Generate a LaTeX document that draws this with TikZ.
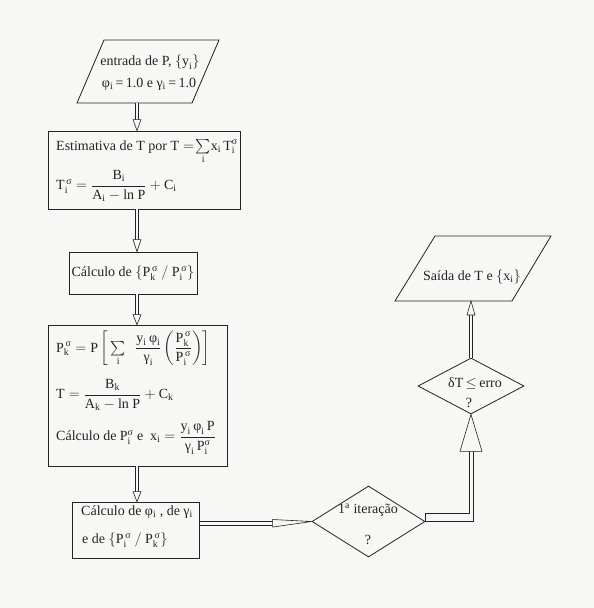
\documentclass[tikz,border=0pt]{standalone}
\usepackage{amsmath}
\usepackage{fontspec}
\setmainfont{Liberation Serif}
\usetikzlibrary{shapes.geometric,calc}
\definecolor{bg}{RGB}{247,247,245}
\definecolor{ink}{RGB}{35,35,35}
\newcommand\up[1]{\text{#1}}
\newcommand\sbi[1]{\textsubscript{#1}}
\newcommand\harrow[4]{%
  \coordinate (hbase) at ($#2!#3!#1$);
  \draw[shaft] #1 -- (hbase);
  \draw[head] #2 -- ($(hbase)!#4!90:#2$) -- ($(hbase)!#4!-90:#2$) -- cycle;
}
\begin{document}
\begin{tikzpicture}[x=1pt,y=-1pt,
  box/.style={draw=ink, rectangle, inner sep=0pt, line width=0.8pt},
  dia/.style={draw=ink, diamond, inner sep=0pt, line width=0.8pt},
  outline/.style={draw=ink, line width=0.8pt, line join=miter},
  txt/.style={inner sep=0pt, text=ink, font=\fontsize{14}{16}\selectfont},
  shaft/.style={draw=ink, line width=0.6pt, double=bg, double distance=2.6pt},
  head/.style={draw=ink, fill=bg, line width=0.6pt, line join=miter},
  pipe/.style={draw=ink, line width=0.6pt}]
\fill[bg] (0,0) rectangle (594,608);
\useasboundingbox (0,0) rectangle (594,608);

% ---- input parallelogram
\coordinate (p1bl) at (77,103);
\coordinate (p1br) at (192,103);
\coordinate (p1tr) at (219,40);
\coordinate (p1tl) at (104,40);
\draw[outline] (p1bl) -- (p1br) -- (p1tr) -- (p1tl) -- cycle;
\node[txt] (t1a) at (150,62) {entrada de P, $\{\up{y}_{\up{i}}\}$};
\node[txt] (t1b) at (149,84) {φ\sbi{i}\,=\,1.0 e γ\sbi{i}\,=\,1.0};

% ---- boxes
\node[box, minimum width=192, minimum height=78] (b2) at (144,170) {};
\node[box, minimum width=128, minimum height=42] (b3) at (133,273) {};
\node[box, minimum width=179, minimum height=141] (b4) at (137.5,395.5) {};
\node[box, minimum width=127, minimum height=56] (b5) at (135.5,530) {};

\node[txt, anchor=base west] (t2a) at (56,150) {Estimativa de T por T$\;=\!\sum\limits_{\up{i}}\!\up{x}_{\up{i}}\,\up{T}_{\up{i}}^{\up{σ}}$};
\node[txt, anchor=west] (t2b) at (56,186) {$\up{T}_{\up{i}}^{\,\up{σ}} = \dfrac{\up{B}_{\up{i}}}{\up{A}_{\up{i}} - \up{ln P}} + \up{C}_{\up{i}}$};

\node[txt] (t3) at (b3) {Cálculo de $\left\{\up{P}_{\up{k}}^{\,\up{σ}}\ /\ \up{P}_{\up{i}}^{\,\up{σ}}\right\}$};

\node[txt, anchor=base west] (t4a) at (56,352) {$\up{P}_{\up{k}}^{\,\up{σ}} = \up{P}\left[\,\sum\limits_{\up{i}}\ \ \dfrac{\up{y}_{\up{i}}\,\up{φ}_{\up{i}}}{\up{γ}_{\up{i}}}\left(\dfrac{\up{P}_{\up{k}}^{\,\up{σ}}}{\up{P}_{\up{i}}^{\,\up{σ}}}\right)\right]$};
\node[txt, anchor=west] (t4b) at (56,395) {$\up{T} = \dfrac{\up{B}_{\up{k}}}{\up{A}_{\up{k}} - \up{ln P}} + \up{C}_{\up{k}}$};
\node[txt, anchor=west] (t4c) at (56,438) {Cálculo de $\up{P}_{\up{i}}^{\up{σ}}$ e\ \ $\up{x}_{\up{i}} = \dfrac{\up{y}_{\up{i}}\,\up{φ}_{\up{i}}\,\up{P}}{\up{γ}_{\up{i}}\,\up{P}_{\up{i}}^{\up{σ}}}$};

\node[txt, anchor=west] (t5a) at (81,512) {Cálculo de φ\sbi{i} , de γ\sbi{i}};
\node[txt, anchor=west] (t5b) at (82,540) {e de $\left\{\up{P}_{\up{i}}^{\,\up{σ}}\ /\ \up{P}_{\up{k}}^{\,\up{σ}}\right\}$};

% ---- diamonds
\node[dia, minimum width=113, minimum height=71] (d1) at (368.5,521.5) {};
\node[txt] (t6a) at (368,510) {1\textsuperscript{a} iteração};
\node[txt] (t6b) at (368,540) {?};

\node[dia, minimum width=106, minimum height=56] (d2) at (471,386) {};
\node[txt] (t7a) at (475,384) {δT$\,\le\,$erro};
\node[txt] (t7b) at (469,403) {?};

% ---- output parallelogram
\coordinate (p2bl) at (395,301);
\coordinate (p2br) at (512,301);
\coordinate (p2tr) at (551,236);
\coordinate (p2tl) at (435,236);
\draw[outline] (p2bl) -- (p2br) -- (p2tr) -- (p2tl) -- cycle;
\node[txt] (t8) at (472,277) {Saída de T e $\left\{\up{x}_{\up{i}}\right\}$};

% ---- connector end points
\coordinate (ax) at (137,0);
\coordinate (a1s) at (ax |- p1bl);
\coordinate (a1e) at (ax |- b2.north);
\coordinate (a2s) at (ax |- b2.south);
\coordinate (a2e) at (ax |- b3.north);
\coordinate (a3s) at (ax |- b3.south);
\coordinate (a3e) at (ax |- b4.north);
\coordinate (a4s) at (ax |- b4.south);
\coordinate (a4e) at (ax |- b5.north);
\coordinate (a7s) at (d2.north);
\coordinate (a7e) at (d2.north |- p2bl);

\harrow{(a1s)}{(a1e)}{11pt}{4pt}
\harrow{(a2s)}{(a2e)}{12pt}{4pt}
\harrow{(a3s)}{(a3e)}{10pt}{4pt}
\harrow{(a4s)}{(a4e)}{10pt}{4pt}
\harrow{(a7s)}{(a7e)}{14pt}{4pt}

% ---- horizontal arrow b5 -> d1
\coordinate (a5s) at ($(b5.east)+(0,-8.5)$);
\coordinate (a5m) at ($(d1.west)+(-39,0)$);
\draw[pipe] (a5s) -- (a5m);
\draw[pipe] ($(a5s)+(0,3.6)$) -- ($(a5m)+(0,3.6)$);
\draw[head] (d1.west) -- ($(a5m)+(0,-2)$) -- ($(a5m)+(0,5.6)$) -- cycle;

% ---- elbow from d1 to d2
\coordinate (hb2) at ($(d2.south)+(0,37)$);
\coordinate (oc) at ($(hb2 |- d1.east)+(2,0)$);
\coordinate (ot) at ($(hb2)+(2,0)$);
\coordinate (ic) at ($(hb2 |- d1.east)+(-2,-8)$);
\coordinate (it) at ($(hb2)+(-2,0)$);
\coordinate (is) at ($(d1.east)+(0,-8)$);
\draw[pipe] (d1.east) -- (oc) -- (ot);
\draw[pipe] (is) -- (ic) -- (it);
\draw[pipe] (is) -- (d1.east);
\draw[head] (d2.south) -- ($(hb2)+(11,0)$) -- ($(hb2)+(-11,0)$) -- cycle;
\end{tikzpicture}
\end{document}
